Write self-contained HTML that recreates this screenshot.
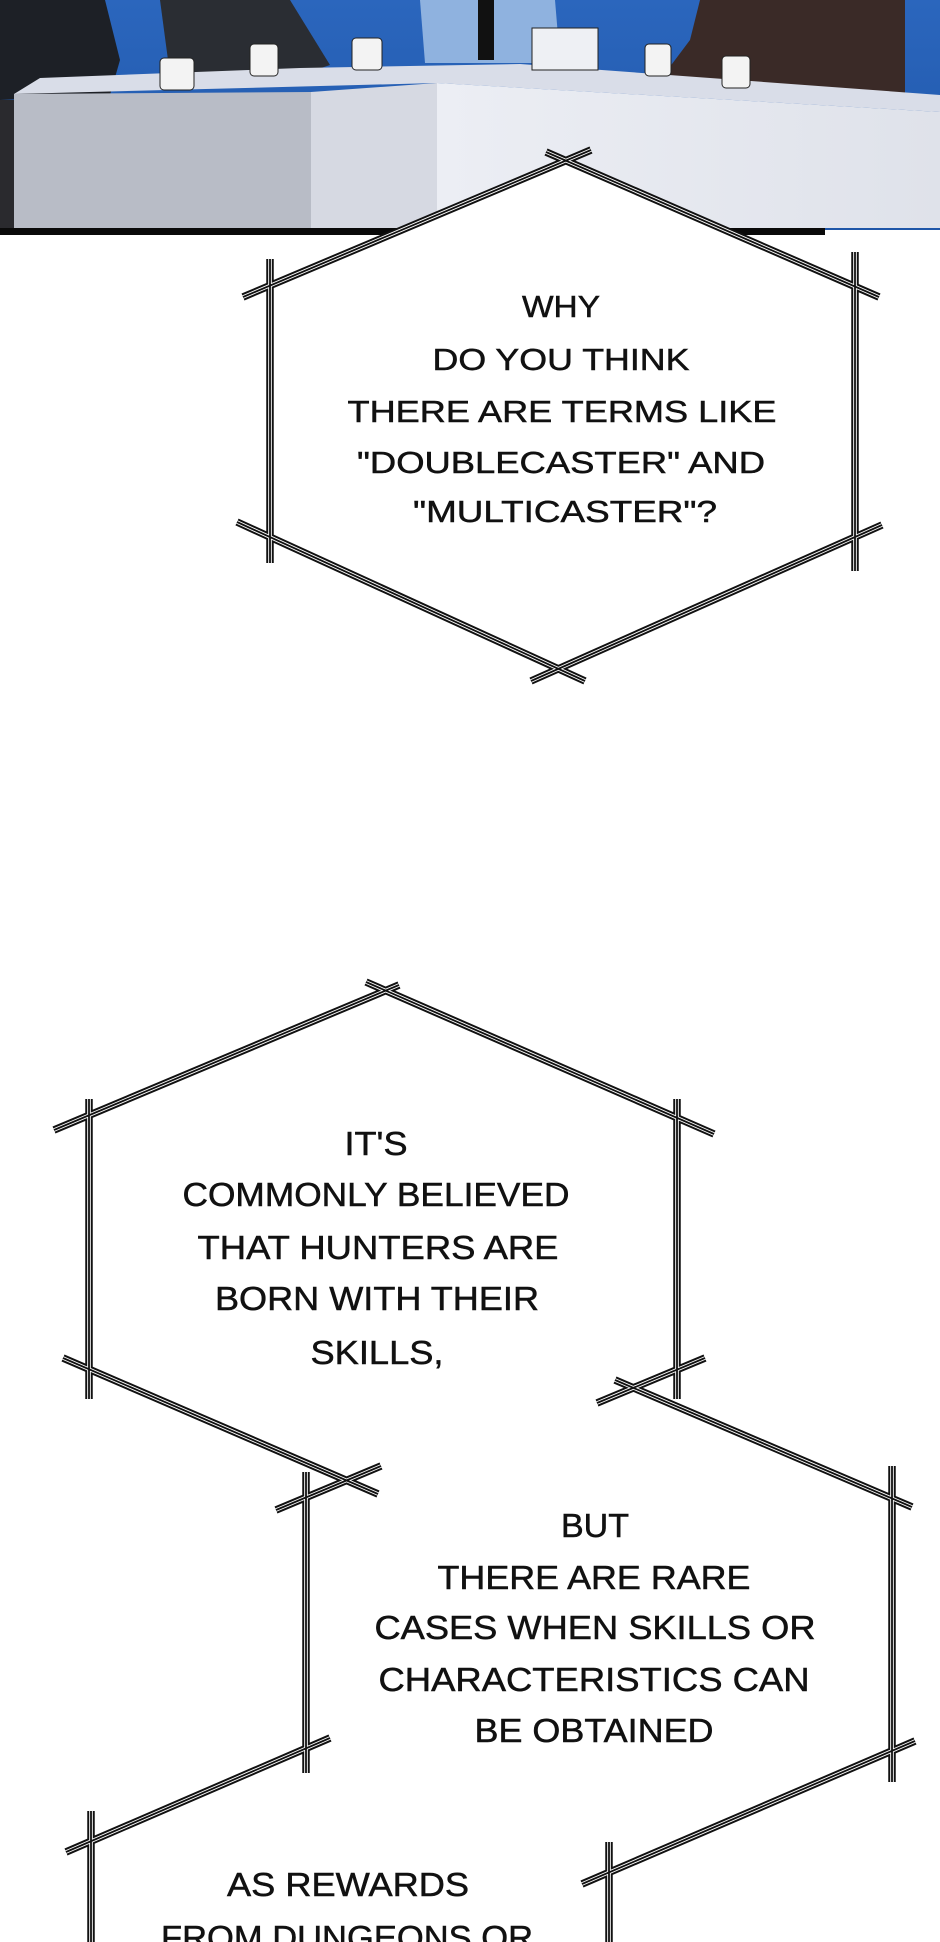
<!DOCTYPE html>
<html><head><meta charset="utf-8"><style>
html,body{margin:0;padding:0;background:#fff}
svg{display:block}
text{font-family:"Liberation Sans",sans-serif;fill:#111;stroke:#111;stroke-width:0.5}
</style></head><body>
<svg width="940" height="1942" viewBox="0 0 940 1942" xmlns="http://www.w3.org/2000/svg" xmlns:xlink="http://www.w3.org/1999/xlink">
<defs>
<linearGradient id="tb" x1="0" x2="1" y1="0" y2="0"><stop offset="0" stop-color="#eceef4"/><stop offset="1" stop-color="#dfe2ea"/></linearGradient>
<linearGradient id="bg" x1="0" x2="0" y1="0" y2="1"><stop offset="0" stop-color="#2b66bd"/><stop offset="1" stop-color="#1f56a8"/></linearGradient>
<path id="P" d="M243,297 L591,150 M546,152 L879,297 M270,259 L270,563 M855,252 L855,571 M237,522 L585,681 M531,681 L882,525
M54,1130 L399,985 M366,982 L714,1134 M89,1099 L89,1399 M677,1099 L677,1399 M63,1358 L378,1494 M597,1403 L705,1358
M615,1380 L912,1507 M276,1510 L381,1466 M306,1472 L306,1773 M892,1466 L892,1782 M66,1852 L330,1738 M582,1884 L915,1741
M91,1811 L91,1942 M609,1842 L609,1942"/>
</defs>
<rect x="0" y="0" width="940" height="230" fill="url(#bg)"/>
<polygon points="0,0 105,0 120,60 110,95 0,100" fill="#1d2026"/>
<polygon points="160,0 290,0 330,65 300,75 170,75" fill="#2a2d33"/>
<polygon points="420,0 555,0 560,60 540,63 425,63" fill="#8fb2df"/>
<rect x="478" y="0" width="16" height="60" fill="#111"/>
<polygon points="700,0 905,0 905,105 660,80 690,40" fill="#3a2a27"/>
<polygon points="14,94 40,78 300,68 520,64 940,95 940,112 437,83 14,94" fill="#d9dde8"/>
<polygon points="14,94 311,92 311,228 14,228" fill="#b8bcc6"/>
<polygon points="311,92 437,83 437,228 311,228" fill="#d6d9e2"/>
<polygon points="437,83 940,112 940,228 437,228" fill="url(#tb)"/>
<rect x="0" y="100" width="14" height="128" fill="#2a2a2e"/>
<rect x="160" y="58" width="34" height="32" rx="4" fill="#f3f3f3" stroke="#222"/>
<rect x="250" y="44" width="28" height="32" rx="4" fill="#f3f3f3" stroke="#222"/>
<rect x="352" y="38" width="30" height="32" rx="4" fill="#f3f3f3" stroke="#222"/>
<rect x="532" y="28" width="66" height="42" fill="#eef0f4" stroke="#222"/>
<rect x="645" y="44" width="26" height="32" rx="4" fill="#f3f3f3" stroke="#222"/>
<rect x="722" y="56" width="28" height="32" rx="4" fill="#f3f3f3" stroke="#222"/>
<rect x="0" y="228" width="825" height="7" fill="#0a0a0a"/>

<polygon points="564,163 855,286 855,531 564,661 270,531 270,286" fill="#fff"/>

<g fill="none">
<use href="#P" xlink:href="#P" stroke="#111" stroke-width="7.5"/>
<use href="#P" xlink:href="#P" stroke="#fff" stroke-width="3.6"/>
<use href="#P" xlink:href="#P" stroke="#111" stroke-width="1.8"/>
</g>

<g font-size="31" text-anchor="middle">
<text x="561" y="317" textLength="78" lengthAdjust="spacingAndGlyphs">WHY</text>
<text x="561" y="370" textLength="257" lengthAdjust="spacingAndGlyphs">DO YOU THINK</text>
<text x="562" y="422" textLength="429" lengthAdjust="spacingAndGlyphs">THERE ARE TERMS LIKE</text>
<text x="561" y="473" textLength="408" lengthAdjust="spacingAndGlyphs">"DOUBLECASTER" AND</text>
<text x="565" y="522" textLength="304" lengthAdjust="spacingAndGlyphs">"MULTICASTER"?</text>
</g>
<g font-size="33" text-anchor="middle">
<text x="376" y="1155" textLength="63" lengthAdjust="spacingAndGlyphs">IT'S</text>
<text x="376" y="1206" textLength="387" lengthAdjust="spacingAndGlyphs">COMMONLY BELIEVED</text>
<text x="378" y="1259" textLength="361" lengthAdjust="spacingAndGlyphs">THAT HUNTERS ARE</text>
<text x="377" y="1310" textLength="324" lengthAdjust="spacingAndGlyphs">BORN WITH THEIR</text>
<text x="377" y="1364" textLength="133" lengthAdjust="spacingAndGlyphs">SKILLS,</text>
</g>
<g font-size="33" text-anchor="middle">
<text x="595" y="1537" textLength="68" lengthAdjust="spacingAndGlyphs">BUT</text>
<text x="594" y="1589" textLength="313" lengthAdjust="spacingAndGlyphs">THERE ARE RARE</text>
<text x="595" y="1639" textLength="441" lengthAdjust="spacingAndGlyphs">CASES WHEN SKILLS OR</text>
<text x="594" y="1691" textLength="431" lengthAdjust="spacingAndGlyphs">CHARACTERISTICS CAN</text>
<text x="594" y="1742" textLength="239" lengthAdjust="spacingAndGlyphs">BE OBTAINED</text>
</g>
<g font-size="33" text-anchor="middle">
<text x="348" y="1896" textLength="242" lengthAdjust="spacingAndGlyphs">AS REWARDS</text>
<text x="347" y="1949" textLength="372" lengthAdjust="spacingAndGlyphs">FROM DUNGEONS OR</text>
</g>
</svg>
</body></html>
